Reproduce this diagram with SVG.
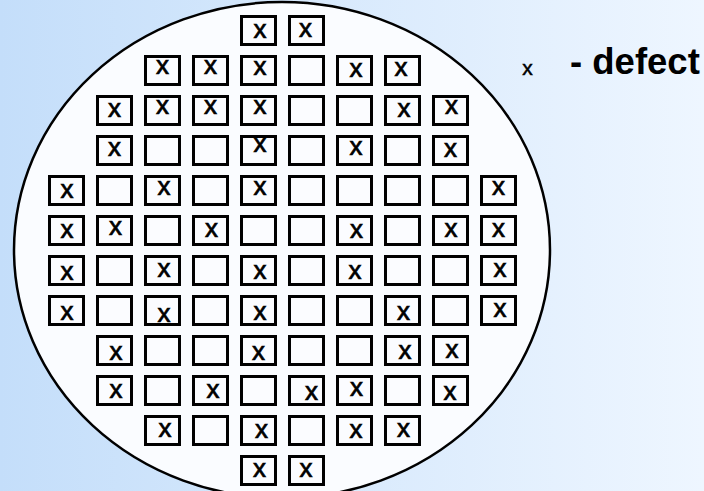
<svg xmlns="http://www.w3.org/2000/svg" width="704" height="491" viewBox="0 0 704 491">
<defs>
<linearGradient id="bg" x1="0" y1="0" x2="1" y2="0">
<stop offset="0" stop-color="#c4defa"/>
<stop offset="1" stop-color="#eef6ff"/>
</linearGradient>
<style>
.die{fill:#fbfcff;stroke:#000;stroke-width:3}
.mk{font-family:"Liberation Sans",Arial,sans-serif;font-size:26px;text-anchor:middle;fill:#000;stroke:#000;stroke-width:0.7}
.lg{font-family:"Liberation Sans",Arial,sans-serif;fill:#000}
</style>
</defs>
<rect x="0" y="0" width="704" height="491" fill="url(#bg)"/>
<g id="wafer">
<ellipse cx="282" cy="250" rx="268" ry="248" fill="#fafcff" stroke="#000" stroke-width="2.5"/>
</g>
<g id="dies">
<g id="row0">
<rect class="die" x="241.5" y="16.5" width="34" height="28"/><rect class="die" x="289.5" y="16.5" width="34" height="28"/>
<text class="mk" x="260" y="38">x</text><text class="mk" x="305.5" y="37">x</text>
</g>
<g id="row1">
<rect class="die" x="145.5" y="56.5" width="34" height="28"/><rect class="die" x="193.5" y="56.5" width="34" height="28"/><rect class="die" x="241.5" y="56.5" width="34" height="28"/><rect class="die" x="289.5" y="56.5" width="34" height="28"/><rect class="die" x="337.5" y="56.5" width="34" height="28"/><rect class="die" x="385.5" y="56.5" width="34" height="28"/>
<text class="mk" x="162.5" y="74">x</text><text class="mk" x="210.5" y="74">x</text><text class="mk" x="260" y="75">x</text><text class="mk" x="356" y="76.5">x</text><text class="mk" x="401" y="75.5">x</text>
</g>
<g id="row2">
<rect class="die" x="97.5" y="96.5" width="34" height="28"/><rect class="die" x="145.5" y="96.5" width="34" height="28"/><rect class="die" x="193.5" y="96.5" width="34" height="28"/><rect class="die" x="241.5" y="96.5" width="34" height="28"/><rect class="die" x="289.5" y="96.5" width="34" height="28"/><rect class="die" x="337.5" y="96.5" width="34" height="28"/><rect class="die" x="385.5" y="96.5" width="34" height="28"/><rect class="die" x="433.5" y="96.5" width="34" height="28"/>
<text class="mk" x="114.5" y="117">x</text><text class="mk" x="162.5" y="114">x</text><text class="mk" x="210.5" y="114">x</text><text class="mk" x="260" y="114">x</text><text class="mk" x="404" y="117">x</text><text class="mk" x="451.5" y="114">x</text>
</g>
<g id="row3">
<rect class="die" x="97.5" y="136.5" width="34" height="28"/><rect class="die" x="145.5" y="136.5" width="34" height="28"/><rect class="die" x="193.5" y="136.5" width="34" height="28"/><rect class="die" x="241.5" y="136.5" width="34" height="28"/><rect class="die" x="289.5" y="136.5" width="34" height="28"/><rect class="die" x="337.5" y="136.5" width="34" height="28"/><rect class="die" x="385.5" y="136.5" width="34" height="28"/><rect class="die" x="433.5" y="136.5" width="34" height="28"/>
<text class="mk" x="114.5" y="156">x</text><text class="mk" x="260" y="151.5">x</text><text class="mk" x="356" y="155">x</text><text class="mk" x="450.5" y="157">x</text>
</g>
<g id="row4">
<rect class="die" x="49.5" y="176.5" width="34" height="28"/><rect class="die" x="97.5" y="176.5" width="34" height="28"/><rect class="die" x="145.5" y="176.5" width="34" height="28"/><rect class="die" x="193.5" y="176.5" width="34" height="28"/><rect class="die" x="241.5" y="176.5" width="34" height="28"/><rect class="die" x="289.5" y="176.5" width="34" height="28"/><rect class="die" x="337.5" y="176.5" width="34" height="28"/><rect class="die" x="385.5" y="176.5" width="34" height="28"/><rect class="die" x="433.5" y="176.5" width="34" height="28"/><rect class="die" x="481.5" y="176.5" width="34" height="28"/>
<text class="mk" x="67" y="198">x</text><text class="mk" x="164" y="195">x</text><text class="mk" x="260" y="195">x</text><text class="mk" x="498.5" y="195">x</text>
</g>
<g id="row5">
<rect class="die" x="49.5" y="216.5" width="34" height="28"/><rect class="die" x="97.5" y="216.5" width="34" height="28"/><rect class="die" x="145.5" y="216.5" width="34" height="28"/><rect class="die" x="193.5" y="216.5" width="34" height="28"/><rect class="die" x="241.5" y="216.5" width="34" height="28"/><rect class="die" x="289.5" y="216.5" width="34" height="28"/><rect class="die" x="337.5" y="216.5" width="34" height="28"/><rect class="die" x="385.5" y="216.5" width="34" height="28"/><rect class="die" x="433.5" y="216.5" width="34" height="28"/><rect class="die" x="481.5" y="216.5" width="34" height="28"/>
<text class="mk" x="67" y="238">x</text><text class="mk" x="115.5" y="235">x</text><text class="mk" x="211.5" y="236.5">x</text><text class="mk" x="356.5" y="238">x</text><text class="mk" x="451" y="236.5">x</text><text class="mk" x="498.5" y="236.5">x</text>
</g>
<g id="row6">
<rect class="die" x="49.5" y="256.5" width="34" height="28"/><rect class="die" x="97.5" y="256.5" width="34" height="28"/><rect class="die" x="145.5" y="256.5" width="34" height="28"/><rect class="die" x="193.5" y="256.5" width="34" height="28"/><rect class="die" x="241.5" y="256.5" width="34" height="28"/><rect class="die" x="289.5" y="256.5" width="34" height="28"/><rect class="die" x="337.5" y="256.5" width="34" height="28"/><rect class="die" x="385.5" y="256.5" width="34" height="28"/><rect class="die" x="433.5" y="256.5" width="34" height="28"/><rect class="die" x="481.5" y="256.5" width="34" height="28"/>
<text class="mk" x="67" y="280">x</text><text class="mk" x="164" y="277">x</text><text class="mk" x="260" y="279">x</text><text class="mk" x="355" y="278.5">x</text><text class="mk" x="500" y="276.5">x</text>
</g>
<g id="row7">
<rect class="die" x="49.5" y="296.5" width="34" height="28"/><rect class="die" x="97.5" y="296.5" width="34" height="28"/><rect class="die" x="145.5" y="296.5" width="34" height="28"/><rect class="die" x="193.5" y="296.5" width="34" height="28"/><rect class="die" x="241.5" y="296.5" width="34" height="28"/><rect class="die" x="289.5" y="296.5" width="34" height="28"/><rect class="die" x="337.5" y="296.5" width="34" height="28"/><rect class="die" x="385.5" y="296.5" width="34" height="28"/><rect class="die" x="433.5" y="296.5" width="34" height="28"/><rect class="die" x="481.5" y="296.5" width="34" height="28"/>
<text class="mk" x="67" y="320">x</text><text class="mk" x="164" y="321.5">x</text><text class="mk" x="260" y="319.5">x</text><text class="mk" x="403.5" y="319.5">x</text><text class="mk" x="500" y="316.5">x</text>
</g>
<g id="row8">
<rect class="die" x="97.5" y="336.5" width="34" height="28"/><rect class="die" x="145.5" y="336.5" width="34" height="28"/><rect class="die" x="193.5" y="336.5" width="34" height="28"/><rect class="die" x="241.5" y="336.5" width="34" height="28"/><rect class="die" x="289.5" y="336.5" width="34" height="28"/><rect class="die" x="337.5" y="336.5" width="34" height="28"/><rect class="die" x="385.5" y="336.5" width="34" height="28"/><rect class="die" x="433.5" y="336.5" width="34" height="28"/>
<text class="mk" x="116" y="360">x</text><text class="mk" x="258.5" y="360">x</text><text class="mk" x="405" y="359">x</text><text class="mk" x="452" y="358">x</text>
</g>
<g id="row9">
<rect class="die" x="97.5" y="376.5" width="34" height="28"/><rect class="die" x="145.5" y="376.5" width="34" height="28"/><rect class="die" x="193.5" y="376.5" width="34" height="28"/><rect class="die" x="241.5" y="376.5" width="34" height="28"/><rect class="die" x="289.5" y="376.5" width="34" height="28"/><rect class="die" x="337.5" y="376.5" width="34" height="28"/><rect class="die" x="385.5" y="376.5" width="34" height="28"/><rect class="die" x="433.5" y="376.5" width="34" height="28"/>
<text class="mk" x="116" y="398">x</text><text class="mk" x="213" y="398">x</text><text class="mk" x="311.5" y="399.5">x</text><text class="mk" x="356.5" y="396">x</text><text class="mk" x="450" y="399.5">x</text>
</g>
<g id="row10">
<rect class="die" x="145.5" y="416.5" width="34" height="28"/><rect class="die" x="193.5" y="416.5" width="34" height="28"/><rect class="die" x="241.5" y="416.5" width="34" height="28"/><rect class="die" x="289.5" y="416.5" width="34" height="28"/><rect class="die" x="337.5" y="416.5" width="34" height="28"/><rect class="die" x="385.5" y="416.5" width="34" height="28"/>
<text class="mk" x="165" y="436.5">x</text><text class="mk" x="261.5" y="438">x</text><text class="mk" x="356" y="438">x</text><text class="mk" x="403.5" y="436.5">x</text>
</g>
<g id="row11">
<rect class="die" x="241.5" y="456.5" width="34" height="28"/><rect class="die" x="289.5" y="456.5" width="34" height="28"/>
<text class="mk" x="259.5" y="476.5">x</text><text class="mk" x="306" y="476.5">x</text>
</g>
</g>
<g id="legend">
<text class="lg" x="527.5" y="74.5" font-size="21" text-anchor="middle" stroke="#000" stroke-width="0.5">x</text>
<text class="lg" x="570" y="74" font-size="36.5" font-weight="bold">- defect</text>
</g>
</svg>
